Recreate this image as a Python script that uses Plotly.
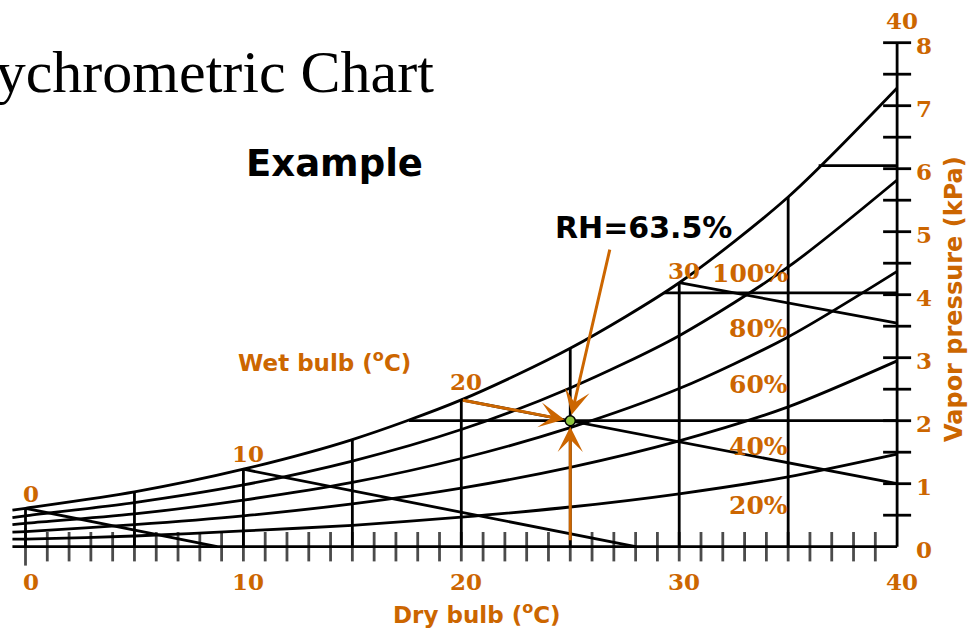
import plotly.graph_objects as go

# ---- chart data -------------------------------------------------------------
# dry-bulb grid (°C) on which the humidity curves are tabulated
dry_bulb = [-0.6, 0, 5, 10, 15, 20, 25, 30, 35, 40]
# vapour pressure (kPa) along each relative-humidity curve
rh_100 = [0.58, 0.61, 0.87, 1.23, 1.70, 2.33, 3.15, 4.19, 5.55, 7.28]
rh_80 = [0.46, 0.49, 0.70, 0.98, 1.36, 1.86, 2.52, 3.35, 4.44, 5.82]
rh_60 = [0.35, 0.37, 0.52, 0.74, 1.02, 1.40, 1.89, 2.51, 3.33, 4.37]
rh_40 = [0.23, 0.24, 0.35, 0.49, 0.68, 0.93, 1.26, 1.68, 2.22, 2.95]
rh_20 = [0.12, 0.12, 0.17, 0.25, 0.34, 0.47, 0.63, 0.84, 1.11, 1.47]
rh_labels = ["100%", "80%", "60%", "40%", "20%"]
rh_label_p = [4.34, 3.47, 2.57, 1.585, 0.66]

# wet-bulb lines: start on the saturation curve, end where they leave the grid
wet_bulb = [0, 10, 20, 30]
wet_bulb_end_t = [8.8, 28.0, 40, 40]
wet_bulb_end_p = [0, 0, 1.0, 3.55]
wet_bulb_labels = ["0", "10", "20", "30", "40"]
wet_bulb_label_t = [0, 10, 20, 30, 40]
wet_bulb_label_p = [0.85, 1.48, 2.62, 4.38, 8.36]

# constant vapour-pressure (dew point) lines
dew_p = [2.0, 4.03, 6.05]
dew_start_t = [17.6, 29.3, 36.4]

# axes
x_tick_labels = [0, 10, 20, 30, 40]
x_minor_ticks = list(range(0, 40))
y_tick_labels = [0, 1, 2, 3, 4, 5, 6, 7, 8]
y_minor_ticks = [0.5, 1, 1.5, 2, 2.5, 3, 3.5, 4, 4.5, 5, 5.5, 6, 6.5, 7, 7.5, 8]

# worked example
example_t = 25
example_p = 2.0
example_rh = "RH=63.5%"
rh_note_t, rh_note_p = 26.83, 4.74

ORANGE = "#CC6600"
BLACK = "black"
LW = 2.8
SERIF = "DejaVu Serif"
SANS = "DejaVu Sans"
W, H = 972, 633

fig = go.Figure()


def line(x, y, color=BLACK, width=LW, shape="linear"):
    fig.add_trace(go.Scatter(x=x, y=y, mode="lines", hoverinfo="skip",
                             line=dict(color=color, width=width, shape=shape, smoothing=0.8)))


# relative humidity curves
for curve in [rh_100, rh_80, rh_60, rh_40, rh_20]:
    line(dry_bulb, curve, shape="spline")

sat = dict(zip(dry_bulb, rh_100))

# dry-bulb isotherms up to saturation
for t in dry_bulb:
    if 0 <= t < 40:
        line([t, t], [0, sat[t]])

# wet-bulb lines
for tw, te, pe in zip(wet_bulb, wet_bulb_end_t, wet_bulb_end_p):
    line([tw, te], [sat[tw], pe])

# dew-point lines
for p, ts in zip(dew_p, dew_start_t):
    line([ts, 40], [p, p])

# axis lines
line([dry_bulb[0], 40], [0, 0])
line([40, 40], [0, 8])

# tick marks crossing the axis lines
fig.add_trace(go.Scatter(
    x=x_minor_ticks, y=[0] * len(x_minor_ticks), mode="markers", hoverinfo="skip",
    marker=dict(symbol="line-ns", size=[27 if t == 0 else 21 for t in x_minor_ticks],
                line=dict(color=BLACK, width=LW))))
fig.add_trace(go.Scatter(
    x=[40] * len(y_minor_ticks), y=y_minor_ticks, mode="markers", hoverinfo="skip",
    marker=dict(symbol="line-ew", size=20, line=dict(color=BLACK, width=LW))))

# example state point
fig.add_trace(go.Scatter(
    x=[example_t], y=[example_p], mode="markers", hoverinfo="skip",
    marker=dict(size=10, color="#8DC63F", line=dict(color=BLACK, width=1.5))))

ann = []
num_font = dict(family=SERIF, size=23, color=ORANGE)
centered = dict(showarrow=False, xanchor="center", yanchor="middle")
for v in x_tick_labels:
    ann.append(dict(centered, x=v, y=0, text=f"<b>{v}</b>", xshift=5, yshift=-35,
                    font=num_font))
for v in y_tick_labels:
    ann.append(dict(centered, x=40, y=v, text=f"<b>{v}</b>", xshift=27, yshift=-3,
                    font=num_font))
for txt, t, p in zip(wet_bulb_labels, wet_bulb_label_t, wet_bulb_label_p):
    ann.append(dict(centered, x=t, y=p, text=f"<b>{txt}</b>", xshift=5, font=num_font))
for txt, p in zip(rh_labels, rh_label_p):
    ann.append(dict(centered, x=35, y=p, text=f"<b>{txt}</b>", xanchor="right",
                    xshift=2, font=dict(family=SERIF, size=25, color=ORANGE)))


def paper_text(px, py, text, font, **kw):
    d = dict(centered, xref="paper", yref="paper", x=px / W, y=1 - py / H, text=text, font=font)
    d.update(kw)
    ann.append(d)


lab_font = dict(family=SANS, size=23, color=ORANGE)
paper_text(477, 613, "<b>Dry bulb (<sup>o</sup>C)</b>", lab_font)
paper_text(324, 361, "<b>Wet bulb (<sup>o</sup>C)</b>", lab_font)
paper_text(954, 299, "<b>Vapor pressure (kPa)</b>", dict(family=SANS, size=24, color=ORANGE),
           textangle=-90)
paper_text(436, 72, "Psychrometric Chart", dict(family="Liberation Serif", size=60, color=BLACK),
           xanchor="right")
paper_text(334, 164, "<b>Example</b>", dict(family=SANS, size=37, color=BLACK))
paper_text(643, 228, f"<b>{example_rh}</b>", dict(family=SANS, size=30, color=BLACK))

# arrows converging on the example point
arrow = dict(x=example_t, y=example_p, xref="x", yref="y", axref="x", ayref="y", text="",
             showarrow=True, arrowhead=3, arrowsize=1.4, arrowwidth=3, arrowcolor=ORANGE,
             standoff=6)
ann.append(dict(arrow, ax=wet_bulb[2], ay=sat[wet_bulb[2]]))
ann.append(dict(arrow, ax=example_t, ay=0.08))
ann.append(dict(arrow, ax=rh_note_t, ay=rh_note_p))

fig.update_layout(
    width=W, height=H, autosize=False,
    margin=dict(l=0, r=0, t=0, b=0),
    paper_bgcolor="white", plot_bgcolor="white",
    showlegend=False,
    xaxis=dict(visible=False, range=[-1.1703, 43.437], fixedrange=True),
    yaxis=dict(visible=False, range=[-1.3698, 8.6778], fixedrange=True),
    annotations=ann,
)

fig.write_html("out.html", config={"displayModeBar": False})
